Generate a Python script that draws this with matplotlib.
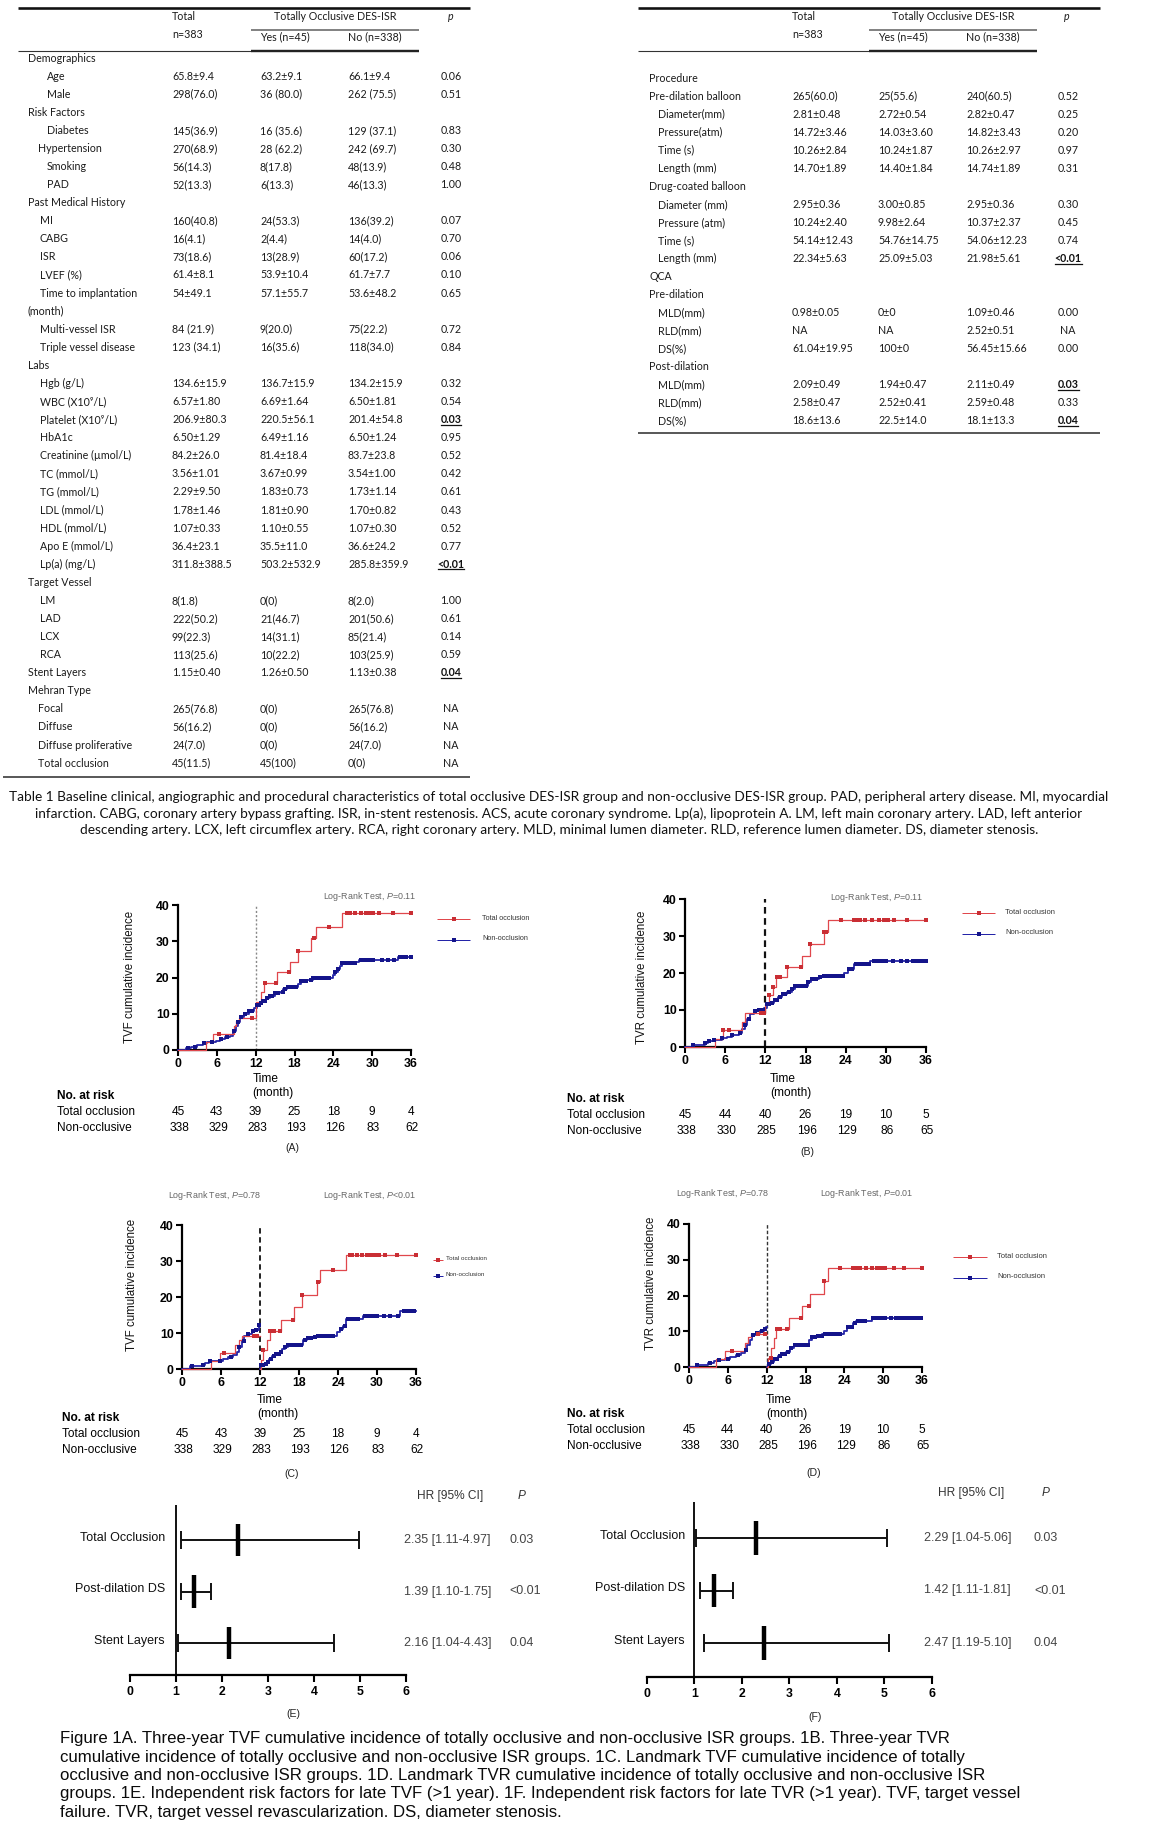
import numpy as np
import matplotlib
matplotlib.use("Agg")
import matplotlib.pyplot as plt
from matplotlib.lines import Line2D
from matplotlib import transforms

# ----------------------------------------------------------------- DATA
# Table 1 (left part)
left_labels = ["Demographics", "Age", "Male", "Risk Factors", "Diabetes", "Hypertension",
               "Smoking", "PAD", "Past Medical History", "MI", "CABG", "ISR", "LVEF (%)",
               "Time to implantation", "(month)", "Multi-vessel ISR", "Triple vessel disease",
               "Labs", "Hgb (g/L)", "WBC (X10⁹/L)", "Platelet (X10⁹/L)", "HbA1c",
               "Creatinine (µmol/L)", "TC (mmol/L)", "TG (mmol/L)", "LDL (mmol/L)",
               "HDL (mmol/L)", "Apo E (mmol/L)", "Lp(a) (mg/L)", "Target Vessel", "LM", "LAD",
               "LCX", "RCA", "Stent Layers", "Mehran Type", "Focal", "Diffuse",
               "Diffuse proliferative", "Total occlusion"]
left_total = ["", "65.8±9.4", "298(76.0)", "", "145(36.9)", "270(68.9)", "56(14.3)", "52(13.3)",
              "", "160(40.8)", "16(4.1)", "73(18.6)", "61.4±8.1", "54±49.1", "", "84 (21.9)",
              "123 (34.1)", "", "134.6±15.9", "6.57±1.80", "206.9±80.3", "6.50±1.29",
              "84.2±26.0", "3.56±1.01", "2.29±9.50", "1.78±1.46", "1.07±0.33", "36.4±23.1",
              "311.8±388.5", "", "8(1.8)", "222(50.2)", "99(22.3)", "113(25.6)", "1.15±0.40",
              "", "265(76.8)", "56(16.2)", "24(7.0)", "45(11.5)"]
left_yes = ["", "63.2±9.1", "36 (80.0)", "", "16 (35.6)", "28 (62.2)", "8(17.8)", "6(13.3)",
            "", "24(53.3)", "2(4.4)", "13(28.9)", "53.9±10.4", "57.1±55.7", "", "9(20.0)",
            "16(35.6)", "", "136.7±15.9", "6.69±1.64", "220.5±56.1", "6.49±1.16", "81.4±18.4",
            "3.67±0.99", "1.83±0.73", "1.81±0.90", "1.10±0.55", "35.5±11.0", "503.2±532.9", "",
            "0(0)", "21(46.7)", "14(31.1)", "10(22.2)", "1.26±0.50", "", "0(0)", "0(0)", "0(0)",
            "45(100)"]
left_no = ["", "66.1±9.4", "262 (75.5)", "", "129 (37.1)", "242 (69.7)", "48(13.9)", "46(13.3)",
           "", "136(39.2)", "14(4.0)", "60(17.2)", "61.7±7.7", "53.6±48.2", "", "75(22.2)",
           "118(34.0)", "", "134.2±15.9", "6.50±1.81", "201.4±54.8", "6.50±1.24", "83.7±23.8",
           "3.54±1.00", "1.73±1.14", "1.70±0.82", "1.07±0.30", "36.6±24.2", "285.8±359.9", "",
           "8(2.0)", "201(50.6)", "85(21.4)", "103(25.9)", "1.13±0.38", "", "265(76.8)",
           "56(16.2)", "24(7.0)", "0(0)"]
left_p = ["", "0.06", "0.51", "", "0.83", "0.30", "0.48", "1.00", "", "0.07", "0.70", "0.06",
          "0.10", "0.65", "", "0.72", "0.84", "", "0.32", "0.54", "0.03", "0.95", "0.52", "0.42",
          "0.61", "0.43", "0.52", "0.77", "<0.01", "", "1.00", "0.61", "0.14", "0.59", "0.04", "",
          "NA", "NA", "NA", "NA"]
left_sig_rows = [20, 28, 34]

# Table 1 (right part)
right_labels = ["Procedure", "Pre-dilation balloon", "Diameter(mm)", "Pressure(atm)", "Time (s)",
                "Length (mm)", "Drug-coated balloon", "Diameter (mm)", "Pressure (atm)",
                "Time (s)", "Length (mm)", "QCA", "Pre-dilation", "MLD(mm)", "RLD(mm)", "DS(%)",
                "Post-dilation", "MLD(mm)", "RLD(mm)", "DS(%)"]
right_total = ["", "265(60.0)", "2.81±0.48", "14.72±3.46", "10.26±2.84", "14.70±1.89", "",
               "2.95±0.36", "10.24±2.40", "54.14±12.43", "22.34±5.63", "", "", "0.98±0.05",
               "NA", "61.04±19.95", "", "2.09±0.49", "2.58±0.47", "18.6±13.6"]
right_yes = ["", "25(55.6)", "2.72±0.54", "14.03±3.60", "10.24±1.87", "14.40±1.84", "",
             "3.00±0.85", "9.98±2.64", "54.76±14.75", "25.09±5.03", "", "", "0±0", "NA",
             "100±0", "", "1.94±0.47", "2.52±0.41", "22.5±14.0"]
right_no = ["", "240(60.5)", "2.82±0.47", "14.82±3.43", "10.26±2.97", "14.74±1.89", "",
            "2.95±0.36", "10.37±2.37", "54.06±12.23", "21.98±5.61", "", "", "1.09±0.46",
            "2.52±0.51", "56.45±15.66", "", "2.11±0.49", "2.59±0.48", "18.1±13.3"]
right_p = ["", "0.52", "0.25", "0.20", "0.97", "0.31", "", "0.30", "0.45", "0.74", "<0.01", "",
           "", "0.00", "NA", "0.00", "", "0.03", "0.33", "0.04"]
right_sig_rows = [10, 17, 19]

table_caption = [
    "Table 1 Baseline clinical, angiographic and procedural characteristics of total occlusive DES-ISR group and non-occlusive DES-ISR group. PAD, peripheral artery disease. MI, myocardial",
    "infarction. CABG, coronary artery bypass grafting. ISR, in-stent restenosis. ACS, acute coronary syndrome. Lp(a), lipoprotein A. LM, left main coronary artery. LAD, left anterior",
    "descending artery. LCX, left circumflex artery. RCA, right coronary artery. MLD, minimal lumen diameter. RLD, reference lumen diameter. DS, diameter stenosis.",
]

# Kaplan-Meier style curves (month, cumulative incidence %)
time_ticks = [0, 6, 12, 18, 24, 30, 36]
inc_ticks = [0, 10, 20, 30, 40]

# A: TVF, 3 years
A_red_t = [0, 4.3, 5.4, 8.6, 9.0, 9.4, 12.0, 12.9, 13.3, 15.3, 17.3, 18.6, 20.6, 21.3, 25.3]
A_red_y = [0, 2.2, 4.4, 6.7, 8.0, 8.9, 13.3, 16.0, 18.6, 21.4, 24.4, 27.4, 30.8, 34.0, 37.7]
A_red_c = [6.4, 11.4, 13.5, 15.2, 17.2, 18.6, 21.0, 23.3, 26.1, 26.6, 27.4, 28.3, 29.0, 29.6,
           30.2, 31.0, 33.2, 36.0]
A_blue_t = [0, 1.2, 2.0, 3.0, 3.8, 4.5, 5.8, 6.5, 7.3, 8.0, 8.5, 8.9, 9.2, 9.6, 10.2, 11.0, 11.8,
            12.2, 12.6, 13.0, 13.6, 14.2, 15.0, 15.8, 16.3, 16.8, 18.0, 18.5, 19.0, 20.0, 20.8,
            23.5, 24.0, 24.3, 24.7, 25.0, 25.4, 27.5, 28.0, 33.5, 34.0]
A_blue_y = [0, 0.5, 0.9, 1.3, 1.8, 2.2, 2.6, 3.1, 3.5, 4.0, 5.2, 6.5, 7.8, 9.0, 10.0, 10.8, 11.5,
            12.4, 13.0, 13.6, 14.4, 15.0, 15.6, 16.0, 16.8, 17.3, 17.5, 18.3, 19.0, 19.4, 20.0,
            20.0, 20.8, 21.6, 22.4, 23.3, 24.0, 24.2, 24.8, 24.8, 25.7]
A_blue_c = [1.5, 2.6, 4.0, 5.2, 6.6, 7.6, 8.6, 9.3, 9.7, 10.3, 11.0, 11.5, 12.2, 12.5, 12.8, 13.1,
            13.4, 13.8, 14.2, 14.6, 15.0, 15.4, 16.2, 16.6, 17.0, 17.4, 17.8, 18.2, 19.0, 19.4,
            19.8, 20.5, 20.9, 21.3, 21.7, 22.1, 22.5, 22.9, 23.3, 24.3, 24.7, 25.4, 25.8, 26.3,
            26.8, 27.4, 28.2, 28.6, 29.0, 29.4, 29.8, 30.2, 31.5, 32.5, 33.3, 34.3, 34.8, 35.3, 36.0]

# B: TVR, 3 years
B_red_t = [0, 4.5, 5.7, 8.5, 9.0, 12.0, 12.6, 13.2, 13.6, 15.3, 17.5, 18.6, 20.7, 21.3]
B_red_y = [0, 2.2, 4.5, 6.7, 9.3, 11.6, 14.0, 16.3, 18.8, 21.6, 24.5, 27.8, 31.0, 34.2]
B_red_c = [5.7, 6.6, 11.4, 11.8, 12.6, 13.2, 13.8, 14.2, 15.3, 17.3, 18.6, 20.7, 21.0, 23.3,
           25.2, 25.5, 26.2, 26.9, 28.0, 29.0, 29.7, 30.3, 31.2, 33.2, 36.0]
B_blue_t = [0, 1.2, 3.0, 3.5, 4.2, 5.5, 6.3, 7.0, 8.0, 8.5, 8.9, 9.3, 9.7, 10.3, 11.0, 11.8,
            12.2, 12.8, 13.3, 13.9, 14.5, 15.2, 16.0, 16.5, 18.3, 18.8, 20.0, 20.6, 23.8, 24.3,
            25.3, 27.7]
B_blue_y = [0, 0.6, 1.0, 1.5, 2.0, 2.3, 2.8, 3.2, 3.8, 4.8, 6.0, 7.5, 8.8, 9.6, 10.1, 10.6,
            11.5, 12.0, 12.8, 13.6, 14.3, 15.0, 15.6, 16.5, 17.5, 18.4, 18.8, 19.1, 20.0, 21.1,
            22.5, 23.3]
B_blue_c = [1.2, 3.0, 3.6, 4.3, 5.6, 7.0, 8.2, 9.0, 9.6, 10.4, 11.0, 11.6, 12.2, 12.6, 13.0,
            13.4, 13.8, 14.2, 14.6, 15.0, 15.5, 16.0, 16.5, 17.0, 17.5, 18.0, 18.4, 19.0, 19.5,
            20.1, 20.8, 21.2, 21.6, 22.0, 22.4, 22.8, 23.2, 23.6, 24.5, 25.0, 25.6, 26.0, 26.5,
            27.0, 27.5, 28.2, 28.6, 29.0, 29.5, 30.0, 31.0, 32.2, 33.2, 34.0, 34.5, 35.0, 35.5, 36.0]

# C: TVF landmark (0-12, 12-36)
C_red1_t = [0, 4.4, 5.9, 8.2, 8.7, 9.2]
C_red1_y = [0, 2.2, 4.4, 6.7, 8.0, 9.2]
C_red1_c = [6.4, 11.0, 11.5]
C_red2_t = [12.0, 12.1, 12.5, 13.0, 13.5, 15.3, 17.2, 18.5, 20.7, 21.3, 25.3]
C_red2_y = [0, 2.5, 5.4, 8.1, 10.6, 13.7, 17.1, 20.5, 24.1, 27.5, 31.7]
C_red2_c = [12.5, 13.6, 14.1, 15.1, 17.1, 18.5, 20.9, 23.2, 25.8, 26.2, 26.9, 27.7, 28.5, 29.1,
            29.7, 30.3, 31.2, 33.1, 36.0]
C_blue1_t = [0, 1.3, 3.0, 3.5, 4.2, 5.5, 6.3, 7.0, 7.8, 8.4, 8.8, 9.2, 9.6, 10.0, 10.7, 11.3,
             11.8]
C_blue1_y = [0, 0.9, 1.1, 1.6, 2.1, 2.3, 2.8, 3.3, 3.8, 4.6, 6.2, 7.8, 9.2, 9.8, 10.5, 10.9,
             12.2]
C_blue1_c = [1.5, 3.2, 4.3, 5.8, 7.5, 8.8, 9.5, 10.1, 10.9, 11.4, 11.9]
C_blue2_t = [12.0, 12.1, 12.6, 13.0, 13.4, 13.8, 14.3, 15.0, 15.4, 15.8, 16.3, 18.6, 19.2, 20.2,
             20.8, 23.9, 24.3, 24.8, 25.3, 27.8, 33.6]
C_blue2_y = [0, 1.0, 1.3, 2.0, 2.8, 3.6, 4.3, 4.8, 5.6, 6.2, 6.6, 8.0, 8.5, 9.0, 9.3, 10.2, 11.2,
             12.0, 13.8, 14.8, 16.0]
C_blue2_c = [12.2, 12.5, 12.9, 13.3, 13.7, 14.1, 14.5, 14.9, 15.3, 15.9, 16.3, 16.7, 17.1, 17.5,
             17.9, 18.3, 18.9, 19.4, 19.9, 20.4, 20.9, 21.3, 21.7, 22.1, 22.5, 22.9, 23.3, 24.4,
             25.0, 25.6, 26.0, 26.5, 27.0, 28.2, 28.6, 29.0, 29.4, 30.0, 31.0, 32.0, 33.2, 34.2,
             34.7, 35.2, 35.7]

# D: TVR landmark (0-12, 12-36)
D_red1_t = [0, 4.2, 5.5, 8.6, 9.1, 9.6]
D_red1_y = [0, 2.2, 4.5, 6.7, 8.3, 9.3]
D_red1_c = [6.6, 10.6, 11.8]
D_red2_t = [12.0, 12.2, 12.7, 13.1, 13.5, 15.5, 17.4, 18.7, 20.8, 21.4]
D_red2_y = [0, 2.4, 5.3, 8.0, 10.6, 13.8, 17.0, 20.5, 24.0, 27.6]
D_red2_c = [12.6, 13.6, 14.1, 15.2, 17.3, 18.5, 20.9, 23.4, 25.3, 25.8, 26.4, 27.4, 28.3, 29.0,
            29.6, 30.3, 31.6, 33.2, 36.0]
D_blue1_t = [0, 1.2, 3.0, 3.8, 4.5, 5.5, 6.3, 7.2, 8.0, 8.6, 9.0, 9.4, 9.8, 10.4, 11.0, 11.6,
             11.9]
D_blue1_y = [0, 0.5, 1.0, 1.6, 2.0, 2.3, 2.8, 3.3, 3.8, 4.8, 6.2, 7.6, 8.9, 9.5, 10.0, 10.5,
             11.2]
D_blue1_c = [1.2, 3.3, 4.6, 6.0, 7.5, 8.8, 9.9, 10.5, 11.3, 11.8]
D_blue2_t = [12.0, 12.2, 12.7, 13.2, 13.7, 14.2, 15.0, 15.6, 16.2, 18.5, 19.0, 20.0, 20.6, 24.0,
             24.4, 25.3, 25.8, 28.2]
D_blue2_y = [0, 0.7, 1.3, 2.2, 3.0, 3.7, 4.2, 5.2, 6.1, 7.6, 8.3, 8.8, 9.1, 10.2, 11.2, 12.4,
             12.9, 13.7]
D_blue2_c = [12.3, 12.8, 13.2, 13.6, 14.0, 14.4, 14.8, 15.3, 15.8, 16.4, 16.8, 17.2, 17.6, 18.0,
             18.4, 19.0, 19.5, 20.0, 20.5, 21.0, 21.4, 21.8, 22.2, 22.6, 23.0, 23.4, 24.6, 25.2,
             25.6, 26.1, 26.6, 27.2, 28.4, 28.8, 29.2, 29.7, 30.3, 31.2, 32.0, 32.6, 33.2, 33.8,
             34.3, 34.8, 35.3, 35.8]

# numbers at risk
risk_tvf_total = [45, 43, 39, 25, 18, 9, 4]
risk_tvf_non = [338, 329, 283, 193, 126, 83, 62]
risk_tvr_total = [45, 44, 40, 26, 19, 10, 5]
risk_tvr_non = [338, 330, 285, 196, 129, 86, 65]

# Forest plots
factors = ["Total Occlusion", "Post-dilation DS", "Stent Layers"]
E_hr = [2.35, 1.39, 2.16]
E_lo = [1.11, 1.10, 1.04]
E_hi = [4.97, 1.75, 4.43]
E_p = ["0.03", "<0.01", "0.04"]
F_hr = [2.29, 1.42, 2.47]
F_lo = [1.04, 1.11, 1.19]
F_hi = [5.06, 1.81, 5.10]
F_p = ["0.03", "<0.01", "0.04"]
hr_ticks = [0, 1, 2, 3, 4, 5, 6]

fig_caption = [
    "Figure 1A. Three-year TVF cumulative incidence of totally occlusive and non-occlusive ISR groups. 1B. Three-year TVR",
    "cumulative incidence of totally occlusive and non-occlusive ISR groups. 1C. Landmark TVF cumulative incidence of totally",
    "occlusive and non-occlusive ISR groups. 1D. Landmark TVR cumulative incidence of totally occlusive and non-occlusive ISR",
    "groups. 1E. Independent risk factors for late TVF (>1 year). 1F. Independent risk factors for late TVR (>1 year). TVF, target vessel",
    "failure. TVR, target vessel revascularization. DS, diameter stenosis.",
]

# ----------------------------------------------------------------- STYLE / LAYOUT
W, H = 1158, 1830
plt.rcParams['font.family'] = ['Liberation Sans', 'DejaVu Sans']
plt.rcParams['mathtext.fontset'] = 'custom'
plt.rcParams['mathtext.rm'] = 'Liberation Sans'
plt.rcParams['mathtext.it'] = 'Liberation Sans:italic'
plt.rcParams['mathtext.bf'] = 'Liberation Sans:bold'

TFONT = ['Lato', 'DejaVu Sans']
TSIZE = 7.7
TCOL = '#1a1a1a'
RED = '#e0474c'
RED_M = '#c92e34'
BLUE = '#2424a8'
BLUE_M = '#14148a'

fig = plt.figure(figsize=(W / 100, H / 100), dpi=100)
fig.patch.set_facecolor('white')


def ftext(x, y, s, **kw):
    return fig.text(x / W, 1 - y / H, s, **kw)


def fline(x0, x1, y0, y1, lw_px, color='#222222'):
    fig.add_artist(Line2D([x0 / W, x1 / W], [1 - y0 / H, 1 - y1 / H], transform=fig.transFigure,
                          lw=lw_px * 0.72, color=color, solid_capstyle='butt'))


def make_ax(x0, x1, ytop, ybot):
    return fig.add_axes([x0 / W, 1 - ybot / H, (x1 - x0) / W, (ybot - ytop) / H])


underline_list = []

# ----------------------------------------------------------------- TABLES
def draw_table(labels, total, yes, no, pvals, sig_rows, lab_x, y0, dy, col_x, p_x):
    for i, lab in enumerate(labels):
        y = y0 + i * dy
        ftext(lab_x[i], y, lab, fontsize=TSIZE, family=TFONT, color=TCOL, va='center', ha='left')
        for val, cx in zip((total[i], yes[i], no[i]), col_x):
            if val:
                ftext(cx, y, val, fontsize=TSIZE, family=TFONT, color=TCOL, va='center')
        if pvals[i]:
            bold = i in sig_rows
            t = ftext(p_x, y, pvals[i], fontsize=TSIZE, family=TFONT, color='#111111' if bold else TCOL,
                      va='center', ha='center', fontweight='bold' if bold else 'normal')
            if bold:
                underline_list.append(t)


# left table label indents
indent_left = {0: 28, 1: 38, 2: 40, 3: 47}
left_levels = [0, 3, 3, 0, 3, 1, 3, 3, 0, 2, 2, 2, 2, 2, 0, 2, 2, 0, 2, 2, 2, 2, 2, 2, 2, 2, 2, 2,
               2, 0, 2, 2, 2, 2, 0, 0, 1, 1, 1, 1]
right_levels = [0, 0, 1, 1, 1, 1, 0, 1, 1, 1, 1, 0, 0, 1, 1, 1, 0, 1, 1, 1]
indent_right = {0: 649, 1: 658}

draw_table(left_labels, left_total, left_yes, left_no, left_p, left_sig_rows,
           [indent_left[l] for l in left_levels], 58, 18.08, (172, 260, 348), 451)
draw_table(right_labels, right_total, right_yes, right_no, right_p, right_sig_rows,
           [indent_right[l] for l in right_levels], 78, 18.05, (792, 878, 966), 1068)

for (x0, xs0, xs1, x1, cT, cY, cN, cp, cO, ybot, xb0) in [
        (18, 251, 419, 470, 172, 260, 348, 451, 335, 777, 3),
        (638, 869, 1037, 1100, 792, 878, 966, 1067, 953, 433, 638)]:
    fline(x0, x1, 8, 8, 2.6, '#111111')
    fline(xs0, xs1, 30, 30, 1.6, '#666666')
    fline(x0, xs0, 51, 51, 1.1, '#333333')
    fline(xs0, xs1, 51, 51, 2.4, '#222222')
    fline(xb0, x1, ybot, ybot, 1.6, '#333333')
    ftext(cT, 16, "Total", fontsize=TSIZE, family=TFONT, color=TCOL, va='center')
    ftext(cT, 34, "n=383", fontsize=TSIZE, family=TFONT, color=TCOL, va='center')
    ftext(cO, 16, "Totally Occlusive DES-ISR", fontsize=TSIZE, family=TFONT, color=TCOL,
          va='center', ha='center')
    ftext(cY, 37, "Yes (n=45)", fontsize=TSIZE, family=TFONT, color=TCOL, va='center')
    ftext(cN, 37, "No (n=338)", fontsize=TSIZE, family=TFONT, color=TCOL, va='center')
    ftext(cp, 16, "p", fontsize=TSIZE, family=TFONT, color=TCOL, va='center', ha='center',
          fontstyle='italic')

cap_texts = []
for k, line in enumerate(table_caption):
    cap_texts.append(ftext(559, 797 + k * 16.3, line, fontsize=9.0, family=TFONT, color='#111111',
                           va='center', ha='center'))

# ----------------------------------------------------------------- KM PANELS
def step_value(t, y, tc):
    t = np.asarray(t)
    y = np.asarray(y)
    idx = np.searchsorted(t, np.asarray(tc), side='right') - 1
    return y[idx]


def km_segment(ax, t, y, t_end, color, mcolor, lw, cens, ms):
    tt = list(t) + [t_end]
    yy = list(y) + [y[-1]]
    ax.step(tt, yy, where='post', color=color, lw=lw, clip_on=False, zorder=3)
    ax.plot(cens, step_value(t, y, cens), 's', color=mcolor, ms=ms, mew=0, clip_on=False,
            zorder=4)


panels = [
    dict(box=(178, 411, 905, 1050), ylab="TVF cumulative incidence", ylab_x=130, ylab_y=977,
         blue=[(A_blue_t, A_blue_y, 36, A_blue_c)], red=[(A_red_t, A_red_y, 36, A_red_c)],
         vline=dict(color='#888888', lw=1.0, ls=(0, (1.5, 1.5))),
         logrank=[(416, 896, 'right', "Log-Rank Test, $\\it{P}$=0.11")],
         legend=dict(x0=437, x1=470, yr=919, yb=940, tx=482, fs=5.2),
         time=(266, 1079, 273, 1093), risk_lab=(57, 1096, 1112, 1128),
         risk=(risk_tvf_total, risk_tvf_non), tag=("(A)", 292, 1148)),
    dict(box=(685, 926, 899, 1047), ylab="TVR cumulative incidence", ylab_x=642, ylab_y=977,
         blue=[(B_blue_t, B_blue_y, 36, B_blue_c)], red=[(B_red_t, B_red_y, 36, B_red_c)],
         vline=dict(color='#111111', lw=1.6, ls=(0, (3, 2))),
         logrank=[(923, 897, 'right', "Log-Rank Test, $\\it{P}$=0.11")],
         legend=dict(x0=962, x1=995, yr=913, yb=934, tx=1005, fs=5.4),
         time=(783, 1079, 791, 1093), risk_lab=(567, 1099, 1115, 1131),
         risk=(risk_tvr_total, risk_tvr_non), tag=("(B)", 807, 1152)),
    dict(box=(182, 416, 1225, 1369), ylab="TVF cumulative incidence", ylab_x=132, ylab_y=1285,
         blue=[(C_blue1_t, C_blue1_y, 12, C_blue1_c), (C_blue2_t, C_blue2_y, 36, C_blue2_c)],
         red=[(C_red1_t, C_red1_y, 12, C_red1_c), (C_red2_t, C_red2_y, 36, C_red2_c)],
         vline=dict(color='#111111', lw=1.3, ls=(0, (3, 2))),
         logrank=[(215, 1196, 'center', "Log-Rank Test, $\\it{P}$=0.78"),
                  (370, 1196, 'center', "Log-Rank Test, $\\it{P}$<0.01")],
         legend=dict(x0=433, x1=443, yr=1260, yb=1276, tx=446, fs=4.5),
         time=(270, 1400, 278, 1414), risk_lab=(62, 1418, 1434, 1450),
         risk=(risk_tvf_total, risk_tvf_non), tag=("(C)", 292, 1474)),
    dict(box=(689, 922, 1224, 1367), ylab="TVR cumulative incidence", ylab_x=651, ylab_y=1283,
         blue=[(D_blue1_t, D_blue1_y, 12, D_blue1_c), (D_blue2_t, D_blue2_y, 36, D_blue2_c)],
         red=[(D_red1_t, D_red1_y, 12, D_red1_c), (D_red2_t, D_red2_y, 36, D_red2_c)],
         vline=dict(color='#333333', lw=1.0, ls=(0, (2.5, 1.5))),
         logrank=[(723, 1193, 'center', "Log-Rank Test, $\\it{P}$=0.78"),
                  (867, 1193, 'center', "Log-Rank Test, $\\it{P}$=0.01")],
         legend=dict(x0=953, x1=987, yr=1257, yb=1278, tx=997, fs=5.4),
         time=(779, 1400, 787, 1414), risk_lab=(567, 1414, 1430, 1446),
         risk=(risk_tvr_total, risk_tvr_non), tag=("(D)", 814, 1473)),
]

for P in panels:
    x0, x1, yt, yb = P['box']
    ax = make_ax(x0, x1, yt, yb)
    ax.patch.set_alpha(0)
    ax.set_xlim(0, 36)
    ax.set_ylim(0, 40)
    ax.set_xticks(time_ticks)
    ax.set_yticks(inc_ticks)
    for s in ('top', 'right'):
        ax.spines[s].set_visible(False)
    for s in ('left', 'bottom'):
        ax.spines[s].set_linewidth(1.6)
    ax.tick_params(direction='out', length=4, width=1.5, labelsize=8.8, pad=2)
    for lab in ax.get_xticklabels() + ax.get_yticklabels():
        lab.set_fontweight('bold')
    ax.axvline(12, color=P['vline']['color'], lw=P['vline']['lw'], ls=P['vline']['ls'], zorder=2)
    for (t, y, te, c) in P['blue']:
        km_segment(ax, t, y, te, BLUE, BLUE_M, 1.3, c, 2.3)
    for (t, y, te, c) in P['red']:
        km_segment(ax, t, y, te, RED, RED_M, 0.9, c, 2.3)
    ftext(P['ylab_x'], P['ylab_y'], P['ylab'], rotation=90, fontsize=8.3, ha='center',
          va='center', color='#111111')
    for (lx, ly, ha, s) in P['logrank']:
        ftext(lx, ly, s, fontsize=6.4, ha=ha, va='center', color='#666666')
    L = P['legend']
    for yy, col, mcol, lab in ((L['yr'], RED, RED_M, "Total occlusion"),
                               (L['yb'], BLUE, BLUE_M, "Non-occlusion")):
        fline(L['x0'], L['x1'], yy, yy, 1.0, col)
        fig.add_artist(Line2D([(L['x0'] + L['x1']) / 2 / W], [1 - yy / H], transform=fig.transFigure,
                              marker='s', ms=2.2, mew=0, color=mcol, lw=0))
        ftext(L['tx'], yy - 1, lab, fontsize=L['fs'], va='center', color='#333333')
    tx1, ty1, tx2, ty2 = P['time']
    ftext(tx1, ty1, "Time", fontsize=8.6, ha='center', va='center')
    ftext(tx2, ty2, "(month)", fontsize=8.6, ha='center', va='center')
    rx, ry0, ry1, ry2 = P['risk_lab']
    ftext(rx, ry0, "No. at risk", fontsize=8.6, fontweight='bold', va='center')
    ftext(rx, ry1, "Total occlusion", fontsize=8.6, va='center')
    ftext(rx, ry2, "Non-occlusive", fontsize=8.6, va='center')
    trans = transforms.blended_transform_factory(ax.transData, fig.transFigure)
    for k, tk in enumerate(time_ticks):
        ax.text(tk, 1 - ry1 / H, str(P['risk'][0][k]), transform=trans, fontsize=8.6,
                ha='center', va='center')
        ax.text(tk + 0.2, 1 - ry2 / H, str(P['risk'][1][k]), transform=trans, fontsize=8.6,
                ha='center', va='center')
    tg, tgx, tgy = P['tag']
    ftext(tgx, tgy, tg, fontsize=7.6, ha='center', va='center', color='#222222')

# ----------------------------------------------------------------- FOREST PANELS
forests = [
    dict(box=(130, 406, 1505, 1675), rows_px=(1540, 1643), hr=E_hr, lo=E_lo, hi=E_hi, p=E_p,
         labx=0.76, valx=404, px=509, head=(417, 518, 1496), tag=("(E)", 293, 1714)),
    dict(box=(647, 932, 1502, 1677), rows_px=(1538, 1643), hr=F_hr, lo=F_lo, hi=F_hi, p=F_p,
         labx=0.80, valx=924, px=1034, head=(938, 1042, 1493), tag=("(F)", 815, 1717)),
]
for Fp in forests:
    x0, x1, yt, yb = Fp['box']
    r0, r2 = Fp['rows_px']
    unit = (r2 - r0) / 2.0
    ax = make_ax(x0, x1, yt, yb)
    ax.patch.set_alpha(0)
    ax.set_xlim(0, 6)
    ax.set_ylim((yb - r0) / unit, -(r0 - yt) / unit)
    rows = np.arange(len(factors))
    ax.hlines(rows, Fp['lo'], Fp['hi'], color='#111111', lw=1.4)
    ax.vlines(Fp['lo'], rows - 0.17, rows + 0.17, color='#111111', lw=1.4)
    ax.vlines(Fp['hi'], rows - 0.17, rows + 0.17, color='#111111', lw=1.4)
    ax.vlines(Fp['hr'], rows - 0.32, rows + 0.32, color='#000000', lw=3.2)
    ax.axvline(1, color='#111111', lw=1.4)
    for s in ('top', 'right', 'left'):
        ax.spines[s].set_visible(False)
    ax.spines['bottom'].set_linewidth(1.6)
    ax.set_yticks([])
    ax.set_xticks(hr_ticks)
    ax.tick_params(axis='x', direction='out', length=5, width=1.5, labelsize=8.8, pad=3)
    for lab in ax.get_xticklabels():
        lab.set_fontweight('bold')
    trans = transforms.blended_transform_factory(fig.transFigure, ax.transData)
    for i, name in enumerate(factors):
        ax.text(Fp['labx'], i - 0.04, name, ha='right', va='center', fontsize=9.0, color='#111111')
        ax.text(Fp['valx'] / W, i, f"{Fp['hr'][i]:.2f} [{Fp['lo'][i]:.2f}-{Fp['hi'][i]:.2f}]",
                transform=trans, ha='left', va='center', fontsize=9.0, color='#444444')
        ax.text(Fp['px'] / W, i, Fp['p'][i], transform=trans, ha='left', va='center',
                fontsize=9.0, color='#444444')
    hx, pxh, hy = Fp['head']
    ftext(hx, hy, "HR [95% CI]", fontsize=8.6, va='center', color='#333333')
    ftext(pxh, hy, "P", fontsize=8.6, va='center', color='#333333', fontstyle='italic')
    tg, tgx, tgy = Fp['tag']
    ftext(tgx, tgy, tg, fontsize=7.6, ha='center', va='center', color='#222222')

fig_texts = []
for k, line in enumerate(fig_caption):
    fig_texts.append(ftext(60, 1739 + k * 18.3, line, fontsize=10.8, va='center', ha='left',
                           color='#0a0a0a'))

# ----------------------------------------------------------------- FIT CAPTIONS / UNDERLINES
fig.canvas.draw()
renderer = fig.canvas.get_renderer()


def fit(texts, ref_idx, target_px):
    w = texts[ref_idx].get_window_extent(renderer).width
    fs = texts[ref_idx].get_fontsize() * target_px / w
    for t in texts:
        t.set_fontsize(fs)


fit(cap_texts, 0, 1100)
fit(fig_texts, 0, 887)
fig.canvas.draw()

for t in underline_list:
    bb = t.get_window_extent(renderer).transformed(fig.transFigure.inverted())
    fig.add_artist(Line2D([bb.x0, bb.x1], [bb.y0 + 0.3 / H, bb.y0 + 0.3 / H],
                          transform=fig.transFigure, lw=0.9, color='#111111'))

fig.savefig("out.png", dpi=100, facecolor='white')
